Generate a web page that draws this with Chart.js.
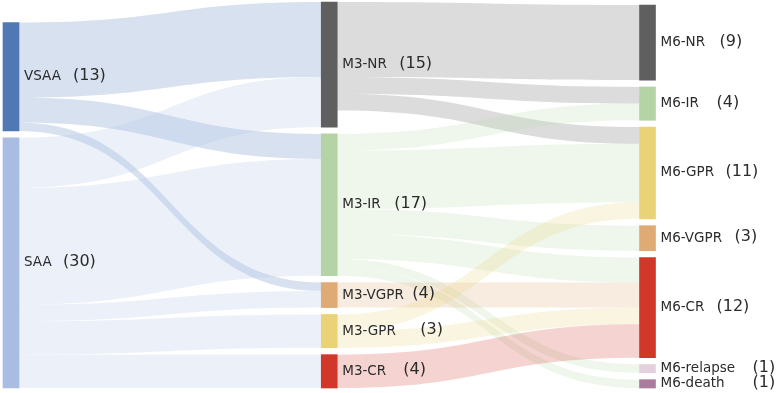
<!DOCTYPE html>
<html>
<head>
<meta charset="utf-8">
<script src="https://cdn.jsdelivr.net/npm/chart.js@4"></script>
<style>
  html, body { margin: 0; padding: 0; background: #fff; }
  canvas { display: block; }
</style>
</head>
<body>
<canvas id="sankey" width="778" height="393"></canvas>
<script>
// nodes, top to bottom in each column
const nodeNames = ['VSAA', 'SAA', 'M3-NR', 'M3-IR', 'M3-VGPR', 'M3-GPR', 'M3-CR',
  'M6-NR', 'M6-IR', 'M6-GPR', 'M6-VGPR', 'M6-CR', 'M6-relapse', 'M6-death'];
const nodeCounts = ['(13)', '(30)', '(15)', '(17)', '(4)', '(3)', '(4)',
  '(9)', '(4)', '(11)', '(3)', '(12)', '(1)', '(1)'];
const nodeColumns = [0, 0, 1, 1, 1, 1, 1, 2, 2, 2, 2, 2, 2, 2];

// flows
const linkSources = ['VSAA', 'VSAA', 'VSAA',
  'SAA', 'SAA', 'SAA', 'SAA', 'SAA',
  'M3-NR', 'M3-NR', 'M3-NR',
  'M3-IR', 'M3-IR', 'M3-IR', 'M3-IR', 'M3-IR', 'M3-IR',
  'M3-VGPR', 'M3-GPR', 'M3-GPR', 'M3-CR'];
const linkTargets = ['M3-NR', 'M3-IR', 'M3-VGPR',
  'M3-NR', 'M3-IR', 'M3-VGPR', 'M3-GPR', 'M3-CR',
  'M6-NR', 'M6-IR', 'M6-GPR',
  'M6-IR', 'M6-GPR', 'M6-VGPR', 'M6-CR', 'M6-relapse', 'M6-death',
  'M6-CR', 'M6-GPR', 'M6-CR', 'M6-CR'];
const linkValues = [9, 3, 1,
  6, 14, 2, 4, 4,
  9, 2, 2,
  2, 7, 3, 3, 1, 1,
  3, 2, 2, 4];

// styling
const nodeColors = ['#4f78b5', '#a9bde3', '#5f5f5f', '#b5d4a5', '#e0aa74', '#ead377', '#d2382a',
  '#5f5f5f', '#b5d4a5', '#ead377', '#e0aa74', '#d2382a', '#e5d1dd', '#ab7b9f'];
const countDx = [54, 44, 62, 57, 75, 83, 66, 64, 61, 70, 79, 61, 97, 97];
const GAP = 0.82;       // space between nodes, in value units
const NODE_W = 16;
const LINK_ALPHA = 0.22;

// ---- layout (value units, bottom aligned) ----
const idx = {};
nodeNames.forEach((n, i) => idx[n] = i);

const inSum = nodeNames.map(() => 0);
const outSum = nodeNames.map(() => 0);
linkValues.forEach((v, k) => {
  outSum[idx[linkSources[k]]] += v;
  inSum[idx[linkTargets[k]]] += v;
});
const nodeValues = nodeNames.map((n, i) => Math.max(inSum[i], outSum[i]));

const nodeHi = [], nodeLo = [];
const colTotals = [];
[0, 1, 2].forEach(c => {
  const members = nodeNames.map((n, i) => i).filter(i => nodeColumns[i] === c);
  const total = members.reduce((s, i) => s + nodeValues[i], 0) + GAP * (members.length - 1);
  colTotals.push(total);
  let top = total;
  members.forEach(i => {
    nodeHi[i] = top;
    nodeLo[i] = top - nodeValues[i];
    top = nodeLo[i] - GAP;
  });
});

// where each link leaves / enters its nodes
const links = linkValues.map((v, k) => ({ s: idx[linkSources[k]], t: idx[linkTargets[k]], v }));
nodeNames.forEach((n, i) => {
  let off = nodeHi[i];
  links.filter(l => l.s === i).sort((a, b) => nodeHi[b.t] - nodeHi[a.t]).forEach(l => {
    l.sy = off; off -= l.v;
  });
  off = nodeHi[i];
  links.filter(l => l.t === i).sort((a, b) => nodeHi[b.s] - nodeHi[a.s]).forEach(l => {
    l.ty = off; off -= l.v;
  });
});

const hexToRgba = (hex, a) => {
  const r = parseInt(hex.slice(1, 3), 16);
  const g = parseInt(hex.slice(3, 5), 16);
  const b = parseInt(hex.slice(5, 7), 16);
  return `rgba(${r},${g},${b},${a})`;
};

const sankeyLinks = {
  id: 'sankeyLinks',
  beforeDatasetsDraw(chart) {
    const { ctx } = chart;
    const xs = chart.scales.x, ys = chart.scales.y;
    ctx.save();
    links.forEach(l => {
      const x0 = xs.getPixelForValue(nodeColumns[l.s]) + NODE_W / 2;
      const x1 = xs.getPixelForValue(nodeColumns[l.t]) - NODE_W / 2;
      const xm = (x0 + x1) / 2;
      const s0 = ys.getPixelForValue(l.sy), s1 = ys.getPixelForValue(l.sy - l.v);
      const t0 = ys.getPixelForValue(l.ty), t1 = ys.getPixelForValue(l.ty - l.v);
      ctx.beginPath();
      ctx.moveTo(x0, s0);
      ctx.bezierCurveTo(xm, s0, xm, t0, x1, t0);
      ctx.lineTo(x1, t1);
      ctx.bezierCurveTo(xm, t1, xm, s1, x0, s1);
      ctx.closePath();
      ctx.fillStyle = hexToRgba(nodeColors[l.s], LINK_ALPHA);
      ctx.fill();
    });
    ctx.restore();
  },
  afterDatasetsDraw(chart) {
    const { ctx } = chart;
    const meta = chart.getDatasetMeta(0);
    ctx.save();
    ctx.textBaseline = 'middle';
    ctx.fillStyle = '#2b2b2b';
    meta.data.forEach((bar, i) => {
      const right = bar.x + NODE_W / 2;
      const cy = (bar.y + bar.base) / 2;
      ctx.font = '13.5px "DejaVu Sans"';
      ctx.fillText(nodeNames[i], right + 5, cy);
      ctx.font = '16px "DejaVu Sans"';
      ctx.fillText(nodeCounts[i], right + countDx[i], cy - 1);
    });
    ctx.restore();
  }
};

new Chart(document.getElementById('sankey'), {
  type: 'bar',
  data: {
    datasets: [{
      data: nodeNames.map((n, i) => ({ x: nodeColumns[i], y: [nodeLo[i], nodeHi[i]] })),
      backgroundColor: nodeColors,
      barThickness: NODE_W,
      borderWidth: 0,
      clip: false
    }]
  },
  options: {
    responsive: false,
    animation: false,
    layout: { padding: { left: 11, right: 130.5, top: 2, bottom: 5 } },
    scales: {
      x: { type: 'linear', min: 0, max: 2, offset: false, display: false },
      y: { type: 'linear', min: 0, max: Math.max(...colTotals), display: false }
    },
    plugins: {
      legend: { display: false },
      tooltip: { enabled: false }
    }
  },
  plugins: [sankeyLinks]
});
</script>
</body>
</html>
